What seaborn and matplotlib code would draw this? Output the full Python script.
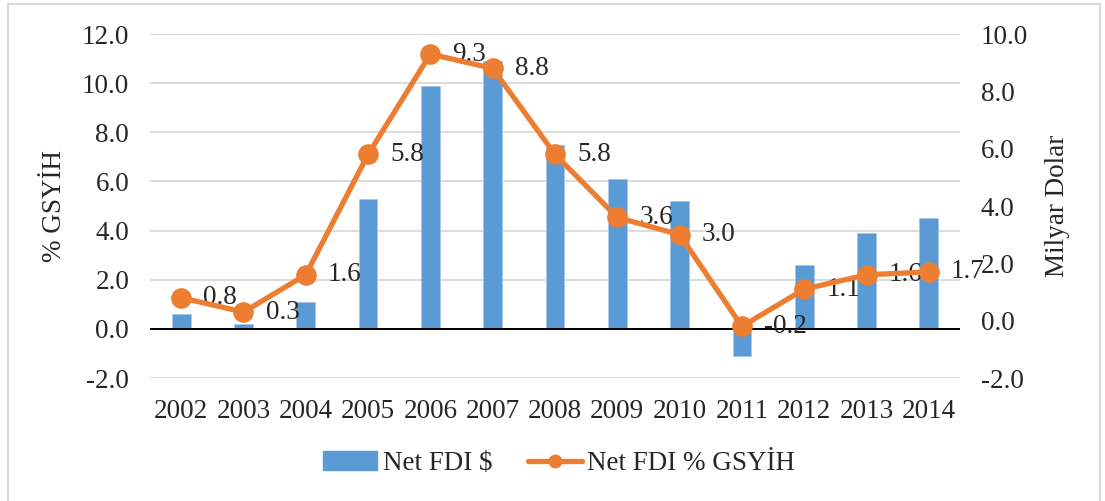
import matplotlib
matplotlib.use('Agg')
import matplotlib.pyplot as plt
import seaborn as sns
from matplotlib.patches import Patch, Rectangle
from matplotlib.lines import Line2D

# data
years = ['2002', '2003', '2004', '2005', '2006', '2007', '2008',
         '2009', '2010', '2011', '2012', '2013', '2014']
fdi_usd = [0.6, 0.2, 1.1, 5.3, 9.9, 10.9, 7.5, 6.1, 5.2, -1.1, 2.6, 3.9, 4.5]
fdi_gdp = [0.8, 0.3, 1.6, 5.8, 9.3, 8.8, 5.8, 3.6, 3.0, -0.2, 1.1, 1.6, 1.7]
left_ticks = [-2, 0, 2, 4, 6, 8, 10, 12]
right_ticks = [-2, 0, 2, 4, 6, 8, 10]

bar_color = '#5B9BD5'
line_color = '#ED7D31'
fs = 19.5

sns.set_style('white')
plt.rcParams['font.family'] = ['Liberation Serif', 'DejaVu Serif']
plt.rcParams['font.size'] = fs

fig = plt.figure(figsize=(11.05, 5.01), dpi=100)
ax = fig.add_axes([150 / 1105, 123 / 501, 810 / 1105, 344 / 501])

sns.barplot(x=years, y=fdi_usd, color=bar_color, width=0.3, saturation=1,
            edgecolor='#A9C8EA', linewidth=0.6, ax=ax)
ax.set_ylim(-2, 12)
ax.set_yticks(left_ticks)
ax.set_yticklabels([f'{t:.1f}' for t in left_ticks])
ax.grid(axis='y', color='#D9D9D9', linewidth=1.3)
ax.set_axisbelow(True)
ax.axhline(0, color='black', linewidth=1.4, zorder=2)

ax2 = ax.twinx()
for i, v in enumerate(fdi_gdp):
    ax2.annotate(f'{v:.1f}', xy=(i, v), xytext=(16, 0), textcoords='offset points',
                 ha='left', va='center', fontsize=fs, zorder=1)
sns.pointplot(x=years, y=fdi_gdp, color=line_color, errorbar=None,
              markers='o', markersize=12, linewidth=3.8, ax=ax2)
ax2.set_ylim(-2, 10)
ax2.set_yticks(right_ticks)
ax2.set_yticklabels([f'{t:.1f}' for t in right_ticks])
ax2.grid(False)

ax.set_xlim(-0.5, len(years) - 0.5)
for a in (ax, ax2):
    for s in a.spines.values():
        s.set_visible(False)
    a.tick_params(length=0, pad=15)

ax.set_xlabel('')
ax.set_ylabel('% GSYİH', fontsize=fs)
ax.yaxis.set_label_coords(-0.102, 0.5)
ax2.set_ylabel('Milyar Dolar', fontsize=fs, rotation=90)
ax2.yaxis.set_label_coords(1.105, 0.5)

handles = [Patch(color=bar_color),
           Line2D([], [], color=line_color, linewidth=3.8, marker='o', markersize=9)]
fig.legend(handles, [r'Net FDI \$', 'Net FDI % GSYİH'], loc='center',
           bbox_to_anchor=(0.506, 0.074), ncol=2, frameon=False, fontsize=fs,
           handlelength=2.0, handletextpad=0.2, columnspacing=1.3)

# outer chart border
fig.patches.append(Rectangle((8 / 1105, -0.02), 1092 / 1105, 1.012,
                             transform=fig.transFigure, fill=False,
                             edgecolor='#D9D9D9', linewidth=1.5))

fig.savefig('out.png', dpi=100)
